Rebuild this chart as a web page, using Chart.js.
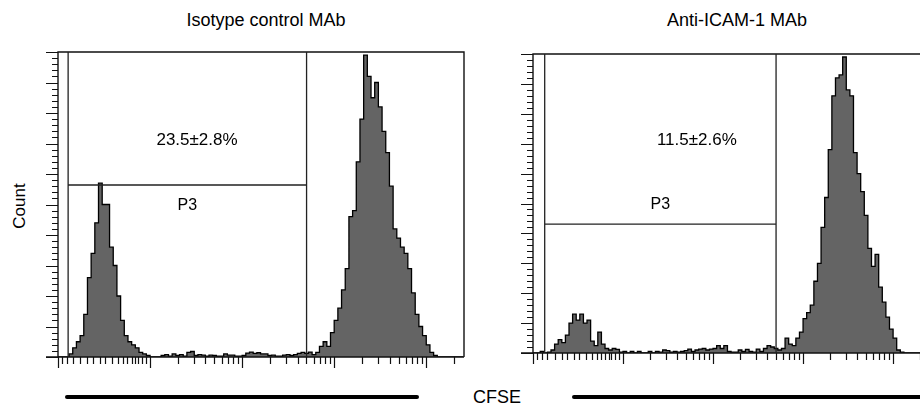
<!DOCTYPE html>
<html lang="en">
<head>
<meta charset="UTF-8" />
<title>CFSE histograms</title>
<script src="https://cdn.jsdelivr.net/npm/chart.js@4.4.1/dist/chart.umd.min.js"></script>
<style>
  html, body { margin: 0; padding: 0; background: #fff; overflow: hidden; width: 920px; height: 406px; }
  body { position: relative; font-family: "Liberation Sans", Arial, Helvetica, sans-serif; color: #000; }
  canvas { position: absolute; top: 0; }
  .title { position: absolute; top: 11px; font-size: 18px; line-height: 18px; transform: translateX(-50%); white-space: nowrap; }
  .count { position: absolute; left: 19px; top: 206px; font-size: 17px; line-height: 17px; transform: translate(-50%, -50%) rotate(-90deg); }
  .cfse { position: absolute; left: 497px; top: 388px; font-size: 18px; line-height: 18px; transform: translateX(-50%); }
  .bar { position: absolute; top: 395px; height: 4px; background: #000; border-radius: 2px; }
</style>
</head>
<body>
<div class="title" style="left:266px">Isotype control MAb</div>
<div class="title" style="left:737px">Anti-ICAM-1 MAb</div>
<div class="count">Count</div>
<div class="cfse">CFSE</div>
<div class="bar" style="left:65px; width:354px"></div>
<div class="bar" style="left:572px; width:380px"></div>

<canvas id="isotype" width="470" height="406" style="left:0"></canvas>
<canvas id="icam" width="480" height="406" style="left:470px"></canvas>

<script>
// histogram bins along the CFSE axis (log decades, 1 = left edge of the plot)
const binStart = 1.0;
const binWidth = 0.04;

// events per bin, isotype control
const isotypeCounts = [
  0, 0, 0, 1, 3, 5, 7, 14, 26, 34,
  44, 57, 50, 50, 36, 30, 20, 12, 7, 5,
  4, 3, 1.5, 1, 0.5, 0, 0, 0, 0.5, 0.8,
  0.3, 1, 0.5, 0.8, 0.3, 1.5, 1.8, 0.5, 0.8, 0.6,
  0.3, 0.6, 0.5, 0.3, 0.3, 1, 0.6, 0.6, 0.3, 0.3,
  0.5, 1.3, 1.6, 1.2, 1.4, 1, 1, 0.5, 0.6, 0.3,
  0.3, 0.6, 0.8, 0.5, 0.8, 1.2, 1.5, 1.2, 1.6, 0.8,
  1.5, 3.5, 5, 3.5, 8, 12, 16, 22, 29, 46,
  48, 64, 78, 99, 92, 85, 90, 82, 74, 67,
  56, 42, 39, 36, 34, 29, 21, 14, 10, 7,
  4, 1.5, 0.5, 0, 0, 0, 0, 0, 0, 0,
  0
];

// events per bin, anti-ICAM-1
const icamCounts = [
  0, 0, 0.5, 0, 0.3, 1, 3, 4.5, 3.5, 6,
  10, 13, 11, 13, 10, 11, 4, 2.5, 7, 3,
  1.5, 1, 1.5, 1.2, 0.3, 0.5, 0, 0.5, 0, 0.5,
  0, 0, 0.5, 0, 0.5, 0.3, 1, 0.8, 0.3, 0.5,
  0.3, 0.5, 0.8, 1.3, 0.5, 1, 1.3, 1.5, 1, 1.3,
  1.5, 2.5, 1.5, 2.5, 0.5, 0.3, 0.3, 1, 0.5, 1.2,
  0.5, 0.3, 1.3, 0.5, 1.5, 2.5, 2, 1.5, 1, 1.5,
  5, 3, 2.5, 5, 7, 11.5, 13.5, 16, 24, 30,
  42, 52, 68, 86, 92, 93, 99, 88, 86, 67,
  60, 54, 46, 35, 29, 33, 22, 17, 12, 8,
  5, 1, 0.3, 0, 0, 0, 0, 0, 0, 0,
  0
];

// axis ticks
const decadeTicks = [1, 2, 3, 4, 5];
const minorMultipliers = [2, 3, 4, 5, 6, 7, 8, 9];
const firstDecadeTicks = [1.04, 1.10, 1.16, 1.24, 1.32, 1.38, 1.46, 1.51, 1.59, 1.65, 1.71, 1.75, 1.80, 1.84, 1.87, 1.91, 1.96];
const xMin = 1, xMax = 5.41;
const yMax = 100, yMinorStep = 2, yMajorStep = 10;

// P3 gate and labels per panel
const gateLow = [1.11, 1.13];
const gateHigh = [3.70, 3.70];
const gateLevel = [56.4, 43.1];
const pctLabels = ["23.5\u00b12.8%", "11.5\u00b12.6%"];
const pctX = [2.51, 2.82];
const pctY = [71, 71];
const gateName = "P3";
const gateNameY = 49.5;

const facsFrame = {
  id: "facsFrame",
  afterDatasetsDraw(chart, args, o) {
    const { ctx, chartArea: a, scales: { x, y } } = chart;
    ctx.save();
    ctx.strokeStyle = "#111";

    // frame + baseline
    ctx.lineWidth = 1.4;
    ctx.beginPath();
    ctx.moveTo(a.left - 12, a.bottom);
    ctx.lineTo(a.right, a.bottom);
    ctx.moveTo(a.left, a.bottom);
    ctx.lineTo(a.left, a.top);
    ctx.lineTo(a.right, a.top);
    ctx.lineTo(a.right, a.bottom);
    ctx.stroke();

    // count ticks
    ctx.lineWidth = 1.2;
    ctx.beginPath();
    for (let i = 0; i * yMinorStep <= yMax; i++) {
      const v = i * yMinorStep;
      const py = Math.round(y.getPixelForValue(v)) + 0.5;
      const len = v % yMajorStep === 0 ? 12 : 6;
      ctx.moveTo(a.left - len, py);
      ctx.lineTo(a.left, py);
    }
    ctx.stroke();

    // CFSE ticks
    const ticks = [];
    decadeTicks.forEach(d => {
      ticks.push({ v: d, major: true });
      if (d > 1) minorMultipliers.forEach(m => ticks.push({ v: d + Math.log10(m), major: false }));
    });
    firstDecadeTicks.forEach(v => ticks.push({ v, major: false }));
    ctx.beginPath();
    ticks.forEach(t => {
      if (t.v < x.min || t.v > x.max) return;
      const px = Math.round(x.getPixelForValue(t.v)) + 0.5;
      ctx.moveTo(px, a.bottom);
      ctx.lineTo(px, a.bottom + (t.major ? 11 : 7));
    });
    ctx.stroke();

    // gate
    const gx1 = x.getPixelForValue(o.low), gx2 = x.getPixelForValue(o.high);
    const gy = y.getPixelForValue(o.level);
    ctx.strokeStyle = "#222";
    ctx.lineWidth = 1.3;
    ctx.beginPath();
    ctx.moveTo(gx1, a.top); ctx.lineTo(gx1, a.bottom);
    ctx.moveTo(gx2, a.top); ctx.lineTo(gx2, a.bottom);
    ctx.moveTo(gx1, gy); ctx.lineTo(gx2, gy);
    ctx.stroke();

    ctx.fillStyle = "#000";
    ctx.textAlign = "center";
    ctx.textBaseline = "middle";
    ctx.font = '17px "Liberation Sans", Arial, sans-serif';
    ctx.fillText(o.pct, x.getPixelForValue(o.pctX), y.getPixelForValue(o.pctY));
    ctx.font = '16px "Liberation Sans", Arial, sans-serif';
    ctx.fillText(gateName, (gx1 + gx2) / 2, y.getPixelForValue(gateNameY));
    ctx.restore();
  }
};

function histogram(id, counts, panel, padding) {
  const points = counts.map((c, i) => ({ x: binStart + i * binWidth, y: c }));
  return new Chart(document.getElementById(id), {
    type: "line",
    data: {
      datasets: [{
        data: points,
        stepped: true,
        fill: "origin",
        backgroundColor: "#646464",
        borderColor: "#000",
        borderWidth: 1.3,
        pointRadius: 0,
      }],
    },
    options: {
      responsive: false,
      animation: false,
      layout: { padding },
      scales: {
        x: { type: "linear", min: xMin, max: xMax, display: false },
        y: { type: "linear", min: 0, max: yMax, display: false },
      },
      plugins: {
        legend: { display: false },
        tooltip: { enabled: false },
        facsFrame: {
          low: gateLow[panel], high: gateHigh[panel], level: gateLevel[panel],
          pct: pctLabels[panel], pctX: pctX[panel], pctY: pctY[panel],
        },
      },
    },
    plugins: [facsFrame],
  });
}

histogram("isotype", isotypeCounts, 0, { left: 58, top: 52, right: 6, bottom: 49 });
histogram("icam", icamCounts, 1, { left: 63, top: 54, right: 20, bottom: 53 });
</script>
</body>
</html>
